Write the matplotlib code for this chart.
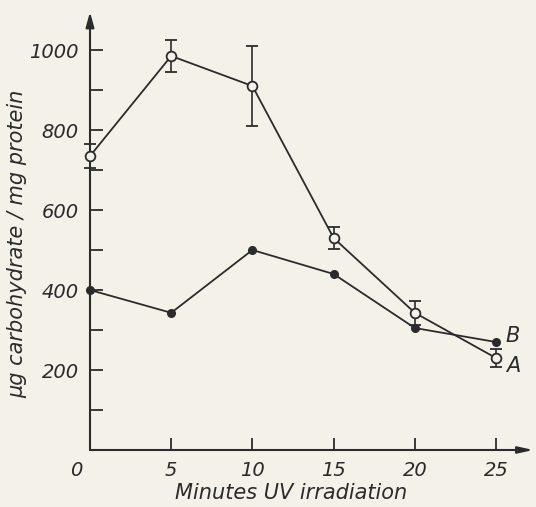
import matplotlib
matplotlib.use("Agg")
import matplotlib.pyplot as plt
from matplotlib.transforms import ScaledTranslation
import numpy as np

# data
minutes = [0, 5, 10, 15, 20, 25]
curve_a = [735, 985, 910, 530, 343, 230]
curve_a_err = [30, 40, 100, 28, 30, 22]
curve_b = [400, 343, 500, 440, 305, 270]
xtick_vals = [0, 5, 10, 15, 20, 25]
ytick_major = [200, 400, 600, 800, 1000]
ytick_minor = [100, 300, 500, 700, 900]

ink = '#2b2b2b'
paper = '#f3f1e8'
plt.rcParams['font.family'] = ['DejaVu Sans']
plt.rcParams['font.style'] = 'italic'

fig = plt.figure(figsize=(5.36, 5.07), dpi=100, facecolor=paper)
ax = fig.add_axes([90 / 536., 57 / 507., 446 / 536., 438 / 507.])
ax.set_facecolor(paper)
ax.set_xlim(0, 446 / 16.24)
ax.set_ylim(0, 438 / 0.4)

for s in ax.spines.values():
    s.set_visible(False)

# axes drawn as arrows
ax.annotate('', xy=(0, 1095), xytext=(0, 0), xycoords='data',
            arrowprops=dict(arrowstyle='-|>,head_length=0.9,head_width=0.25',
                            color=ink, lw=1.5, shrinkA=0, shrinkB=0),
            annotation_clip=False)
ax.annotate('', xy=(27.3, 0), xytext=(0, 0), xycoords='data',
            arrowprops=dict(arrowstyle='-|>,head_length=0.9,head_width=0.2',
                            color=ink, lw=1.5, shrinkA=0, shrinkB=0),
            annotation_clip=False)

# curve A: open circles with error bars
ax.errorbar(minutes, curve_a, yerr=curve_a_err, color=ink, fmt='-o',
            mfc=paper, mec=ink, ms=7, mew=1.3, lw=1.3, elinewidth=1.2,
            capsize=4.5, capthick=1.2, zorder=3, clip_on=False)
# curve B: filled dots
ax.plot(minutes, curve_b, '-o', color=ink, ms=5.5, lw=1.3, zorder=3, clip_on=False)

ax.text(25.6, 285, 'B', fontsize=15, color=ink, va='center', ha='left')
ax.text(25.6, 210, 'A', fontsize=15, color=ink, va='center', ha='left')

ax.set_xticks(xtick_vals)
ax.set_xticklabels([str(v) for v in xtick_vals])
ax.set_yticks(ytick_major)
ax.set_yticklabels([str(v) for v in ytick_major])
ax.set_yticks(ytick_minor, minor=True)
ax.tick_params(axis='both', which='both', direction='in', color=ink,
               labelcolor=ink, labelsize=14, width=1.3)
ax.tick_params(axis='y', which='both', length=9, pad=8)
ax.tick_params(axis='x', which='both', length=9, pad=8)
lab0 = ax.get_xticklabels()[0]
lab0.set_transform(lab0.get_transform() + ScaledTranslation(-14 / 100., 0, fig.dpi_scale_trans))

ax.set_xlabel('Minutes UV irradiation', fontsize=15, color=ink)
ax.set_ylabel('\u00b5g carbohydrate / mg protein', fontsize=15, color=ink)
ax.xaxis.set_label_coords(0.45, -0.075)
ax.yaxis.set_label_coords(-0.14, 0.47)

fig.savefig('out.png', dpi=100, facecolor=paper)
